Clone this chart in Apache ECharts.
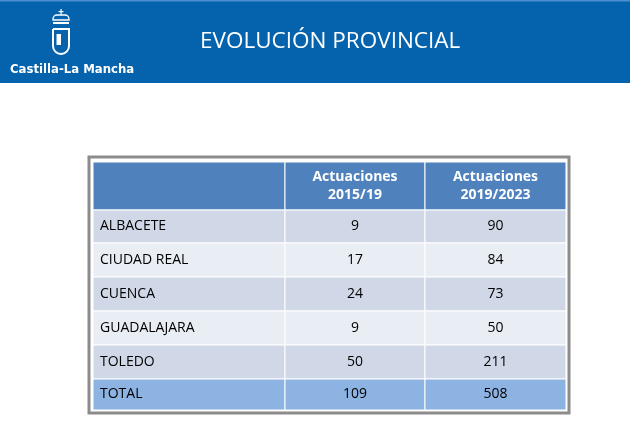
<!DOCTYPE html>
<html><head><meta charset="utf-8">
<script src="https://cdn.jsdelivr.net/npm/echarts@6/dist/echarts.min.js"></script>
<style>html,body{margin:0;padding:0;background:#fff}#c{width:630px;height:430px}</style>
</head><body><div id="c"></div>
<script>
var title = 'EVOLUCIÓN PROVINCIAL';
var brand = 'Castilla-La Mancha';
var headers = ['', 'Actuaciones\n2015/19', 'Actuaciones\n2019/2023'];
var provinces = ['ALBACETE', 'CIUDAD REAL', 'CUENCA', 'GUADALAJARA', 'TOLEDO', 'TOTAL'];
var period1 = [9, 17, 24, 9, 50, 109];
var period2 = [90, 84, 73, 50, 211, 508];

// layout (style) constants
var colW = [192, 140, 141];
var rowH = [48, 33, 34, 34, 34, 34, 31];
function cum(a){var r=[0];a.forEach(function(v){r.push(r[r.length-1]+v)});return r;}
var cx = cum(colW), cy = cum(rowH);

var cells = [];
for (var r = 0; r < rowH.length; r++) {
  for (var c = 0; c < colW.length; c++) {
    var txt;
    if (r === 0) txt = headers[c];
    else if (c === 0) txt = provinces[r-1];
    else if (c === 1) txt = String(period1[r-1]);
    else txt = String(period2[r-1]);
    cells.push([cx[c], cy[r], cx[c+1], cy[r+1], r, c, txt]);
  }
}
function fill(r){
  if (r === 0) return '#4f81bd';
  if (r === 6) return '#8db3e2';
  return (r % 2 === 1) ? '#d0d8e8' : '#e9edf4';
}
var chart = echarts.init(document.getElementById('c'));
chart.setOption({
  animation:false,
  grid:{left:93,right:64,top:162,bottom:20},
  xAxis:{type:'value',min:0,max:cx[cx.length-1],show:false},
  yAxis:{type:'value',min:0,max:cy[cy.length-1],inverse:true,show:false},
  graphic:[
    {type:'rect',shape:{x:0,y:0,width:630,height:83},style:{fill:'#0563ae'},silent:true},
    {type:'rect',shape:{x:0,y:0,width:630,height:1.5},style:{fill:'#4a8fd0'},silent:true},
    {type:'text',left:200,top:30,style:{text:title,fill:'#fff',font:'22.5px "Open Sans", sans-serif'}},
    {type:'text',left:10,top:63,style:{text:brand,fill:'#fff',font:'bold 13px "Liberation Sans Narrow","DejaVu Sans Condensed", sans-serif'}},
    // logo
    {type:'rect',shape:{x:53,y:29,width:16,height:25,r:[0,0,8,8]},style:{fill:'none',stroke:'#fff',lineWidth:2}},
    {type:'rect',shape:{x:56.5,y:34,width:4.5,height:11},style:{fill:'#fff'}},
    {type:'rect',shape:{x:53,y:15,width:16,height:5,r:[4,4,0,0]},style:{fill:'none',stroke:'#fff',lineWidth:1.3}},
    {type:'rect',shape:{x:53,y:22,width:16,height:2},style:{fill:'#fff'}},
    {type:'rect',shape:{x:60.5,y:9,width:1.2,height:6},style:{fill:'#fff'}},
    {type:'rect',shape:{x:58.5,y:11,width:5,height:1.2},style:{fill:'#fff'}},
    // table border
    {type:'rect',shape:{x:89,y:157,width:480,height:256},style:{fill:'none',stroke:'#8c8c8c',lineWidth:3}}
  ],
  series:[{
    type:'custom',
    data:cells,
    renderItem:function(params, api){
      var p0 = api.coord([api.value(0), api.value(1)]);
      var p1 = api.coord([api.value(2), api.value(3)]);
      var r = api.value(4), c = api.value(5), t = cells[params.dataIndex][6];
      var hdr = r === 0;
      return {type:'group',children:[
        {type:'rect',shape:{x:p0[0],y:p0[1],width:p1[0]-p0[0],height:p1[1]-p0[1]},
         style:{fill:fill(r),stroke:'#fff',lineWidth:1}},
        {type:'text',style:{
          text:t, x: c===0 ? p0[0]+7 : (p0[0]+p1[0])/2, y:(p0[1]+p1[1])/2,
          align: c===0?'left':'center', verticalAlign:'middle',
          fill: hdr ? '#fff' : '#000', lineHeight:18,
          font:(hdr?'bold ':'')+'14px "Open Sans", sans-serif'}}
      ]};
    }
  }]
});
</script></body></html>
